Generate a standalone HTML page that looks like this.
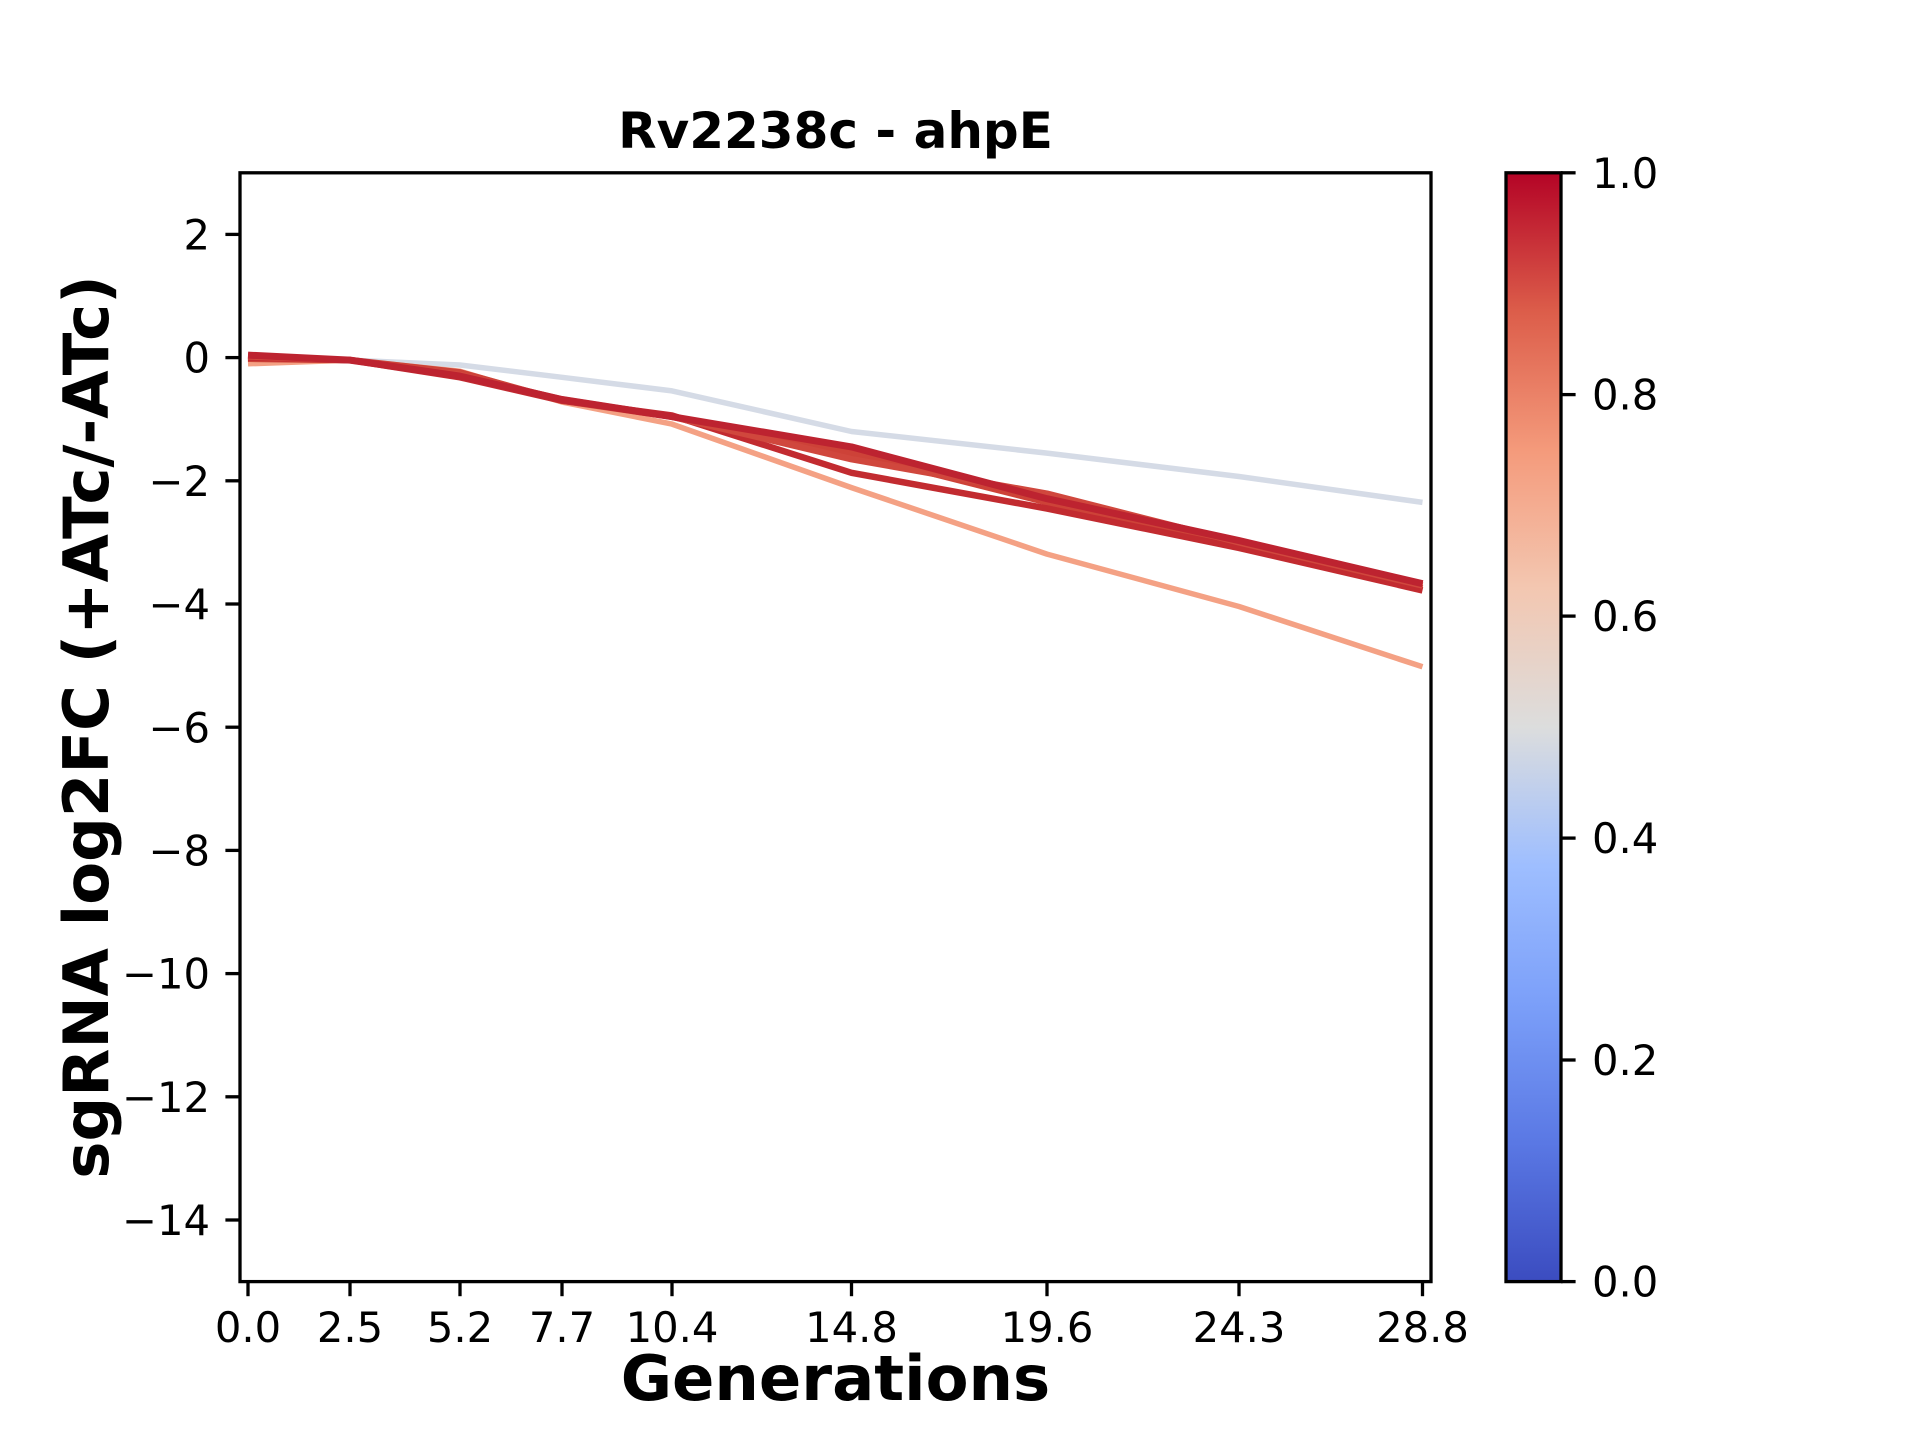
<!DOCTYPE html>
<html><head><meta charset="utf-8"><style>html,body{margin:0;padding:0;background:#fff}svg{display:block}</style></head>
<body>
<svg width="1920" height="1440" viewBox="0 0 1920 1440" xmlns="http://www.w3.org/2000/svg" font-family="'DejaVu Sans','Liberation Sans',sans-serif">
<defs>
<linearGradient id="cw" x1="0" y1="1" x2="0" y2="0">
<stop offset="0" stop-color="#3b4cc0"/>
<stop offset="0.125" stop-color="#5a78e4"/>
<stop offset="0.25" stop-color="#7b9ff9"/>
<stop offset="0.375" stop-color="#9ebeff"/>
<stop offset="0.5" stop-color="#dcdddd"/>
<stop offset="0.625" stop-color="#f3c7b1"/>
<stop offset="0.75" stop-color="#f49a7b"/>
<stop offset="0.875" stop-color="#dc5d4a"/>
<stop offset="1" stop-color="#b40426"/>
</linearGradient>
<clipPath id="ax"><rect x="240" y="172.8" width="1191" height="1108.8"/></clipPath>
</defs>
<rect width="1920" height="1440" fill="#fff"/>
<text x="835.5" y="148" font-size="50" font-weight="bold" text-anchor="middle">Rv2238c - ahpE</text>
<g clip-path="url(#ax)" fill="none" stroke-linejoin="round" stroke-linecap="butt">
<polyline stroke="#d5dbe6" stroke-width="5.5" points="248,357.6 350,360.1 460,365 562,377.3 672,390.9 851.5,431.5 1047,453.1 1239,476.5 1422.5,502.4"/>
<polyline stroke="#f4a184" stroke-width="5.5" points="248,363.8 350,360.1 460,371.2 562,402 672,424.1 851.5,487.6 1047,554.1 1239,606.5 1422.5,666.8"/>
<polyline stroke="#cd4238" stroke-width="6.5" points="248,358.8 350,360.1 460,372.4 562,400.7 672,416.7 851.5,453.1 1047,502.4 1239,545.5 1422.5,588"/>
<polyline stroke="#c22b30" stroke-width="6.5" points="248,357.6 350,360.1 460,377.3 562,400.7 672,415.5 851.5,472.8 1047,508.5 1239,547.9 1422.5,590.4"/>
<polyline stroke="#d0473d" stroke-width="6.5" points="248,356.4 350,360.1 460,374.8 562,399.5 672,416.7 851.5,459.2 1047,493.7 1239,542.4 1422.5,585.5"/>
<polyline stroke="#bd2330" stroke-width="7" points="248,355.1 350,360.1 460,376.1 562,399.5 672,416.7 851.5,446.9 1047,498.7 1239,540.6 1422.5,583.7"/>
</g>
<rect x="240" y="172.8" width="1191" height="1108.8" fill="none" stroke="#000" stroke-width="3.3"/>
<g stroke="#000" stroke-width="3.3">
<line x1="240" y1="234.4" x2="225.4" y2="234.4"/><line x1="240" y1="357.6" x2="225.4" y2="357.6"/><line x1="240" y1="480.8" x2="225.4" y2="480.8"/><line x1="240" y1="604" x2="225.4" y2="604"/><line x1="240" y1="727.2" x2="225.4" y2="727.2"/><line x1="240" y1="850.4" x2="225.4" y2="850.4"/><line x1="240" y1="973.6" x2="225.4" y2="973.6"/><line x1="240" y1="1096.8" x2="225.4" y2="1096.8"/><line x1="240" y1="1220" x2="225.4" y2="1220"/>
<line x1="248" y1="1281.6" x2="248" y2="1296.2"/><line x1="350" y1="1281.6" x2="350" y2="1296.2"/><line x1="460" y1="1281.6" x2="460" y2="1296.2"/><line x1="562" y1="1281.6" x2="562" y2="1296.2"/><line x1="672" y1="1281.6" x2="672" y2="1296.2"/><line x1="851.5" y1="1281.6" x2="851.5" y2="1296.2"/><line x1="1047" y1="1281.6" x2="1047" y2="1296.2"/><line x1="1239" y1="1281.6" x2="1239" y2="1296.2"/><line x1="1422.5" y1="1281.6" x2="1422.5" y2="1296.2"/>
</g>
<g font-size="41.7" text-anchor="end">
<text x="210" y="249.5">2</text><text x="210" y="372.7">0</text><text x="210" y="495.9">−2</text><text x="210" y="619.1">−4</text><text x="210" y="742.3">−6</text><text x="210" y="865.5">−8</text><text x="210" y="988.7">−10</text><text x="210" y="1111.9">−12</text><text x="210" y="1235.1">−14</text>
</g>
<g font-size="41.7" text-anchor="middle">
<text x="248" y="1342">0.0</text><text x="350" y="1342">2.5</text><text x="460" y="1342">5.2</text><text x="562" y="1342">7.7</text><text x="672" y="1342">10.4</text><text x="851.5" y="1342">14.8</text><text x="1047" y="1342">19.6</text><text x="1239" y="1342">24.3</text><text x="1422.5" y="1342">28.8</text>
</g>
<text x="835.5" y="1400" font-size="62.5" font-weight="bold" text-anchor="middle">Generations</text>
<text transform="translate(108,727) rotate(-90)" font-size="62.5" font-weight="bold" text-anchor="middle">sgRNA log2FC (+ATc/-ATc)</text>
<rect x="1506" y="172.8" width="55" height="1108.8" fill="url(#cw)" stroke="#000" stroke-width="3.3"/>
<g stroke="#000" stroke-width="3.3">
<line x1="1561" y1="172.8" x2="1575.6" y2="172.8"/><line x1="1561" y1="394.6" x2="1575.6" y2="394.6"/><line x1="1561" y1="616.1" x2="1575.6" y2="616.1"/><line x1="1561" y1="838.1" x2="1575.6" y2="838.1"/><line x1="1561" y1="1060" x2="1575.6" y2="1060"/><line x1="1561" y1="1281.6" x2="1575.6" y2="1281.6"/>
</g>
<g font-size="41.7">
<text x="1592" y="187.9">1.0</text><text x="1592" y="409.7">0.8</text><text x="1592" y="631.2">0.6</text><text x="1592" y="853.2">0.4</text><text x="1592" y="1075.1">0.2</text><text x="1592" y="1296.7">0.0</text>
</g>
</svg>
</body></html>
